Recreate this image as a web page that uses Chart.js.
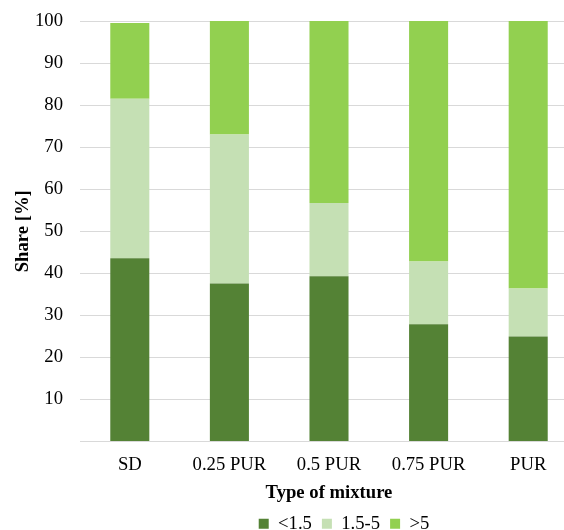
<!DOCTYPE html>
<html>
<head>
<meta charset="utf-8">
<script src="https://cdn.jsdelivr.net/npm/chart.js@4.4.1/dist/chart.umd.min.js"></script>
<style>
html, body { margin:0; padding:0; overflow:hidden; background:#fff; }
#wrap { width:580px; height:543px; position:relative; }
</style>
</head>
<body>
<div id="wrap"><canvas id="c" width="580" height="543"></canvas></div>
<script>
const categories = ['SD', '0.25 PUR', '0.5 PUR', '0.75 PUR', 'PUR'];
const seriesNames = ['<1.5', '1.5-5', '>5'];
const below15 = [43.6, 37.6, 39.3, 27.9, 25.0];
const from15to5 = [37.9, 35.4, 17.4, 14.9, 11.4];
const above5 = [18.0, 27.0, 43.3, 57.2, 63.6];
const yTicks = [0, 10, 20, 30, 40, 50, 60, 70, 80, 90, 100];
const colors = ['#548235', '#C5E0B4', '#92D050'];

const FONT = "'Liberation Serif', 'Times New Roman', serif";
const FS = 18.67;

const legendShift = {
  id: 'legendShift',
  afterLayout(chart) {
    const lg = chart.legend;
    if (lg) { lg.left += 55; lg.right += 55; }
  }
};

new Chart(document.getElementById('c'), {
  type: 'bar',
  data: {
    labels: categories,
    datasets: [below15, from15to5, above5].map((d, i) => ({
      label: seriesNames[i],
      data: d,
      backgroundColor: colors[i],
      borderWidth: 0,
      categoryPercentage: 0.392,
      barPercentage: 1.0
    }))
  },
  options: {
    responsive: false,
    animation: false,
    layout: { padding: { top: 21, right: 2, left: 0, bottom: 0 } },
    plugins: {
      tooltip: { enabled: false },
      legend: {
        position: 'bottom',
        labels: {
          font: { family: FONT, size: FS },
          color: '#000',
          boxWidth: 10,
          boxHeight: 10,
          padding: 10
        }
      }
    },
    scales: {
      x: {
        stacked: true,
        grid: { display: false, drawTicks: false, tickLength: 0 },
        border: { display: true, color: '#d9d9d9', width: 1 },
        ticks: { font: { family: FONT, size: FS }, color: '#000', padding: 12 },
        title: { display: true, text: 'Type of mixture', font: { family: FONT, size: FS, weight: 'bold' }, color: '#000', padding: { top: -6, bottom: 0 } }
      },
      y: {
        stacked: true,
        min: 0, max: 100,
        afterBuildTicks(scale) { scale.ticks = yTicks.map(v => ({ value: v })); },
        afterFit(scale) { scale.width = 80; scale.paddingTop = 0; scale.paddingBottom = 0; },
        grid: { color: '#d9d9d9', lineWidth: 1, drawTicks: false, tickLength: 0 },
        border: { display: false },
        ticks: {
          font: { family: FONT, size: FS }, color: '#000', padding: 17,
          callback: v => v === 0 ? '' : String(v)
        },
        title: { display: true, text: 'Share [%]', font: { family: FONT, size: FS, weight: 'bold' }, color: '#000', padding: { top: 12, bottom: 4 } }
      }
    }
  },
  plugins: [legendShift]
});
</script>
</body>
</html>
